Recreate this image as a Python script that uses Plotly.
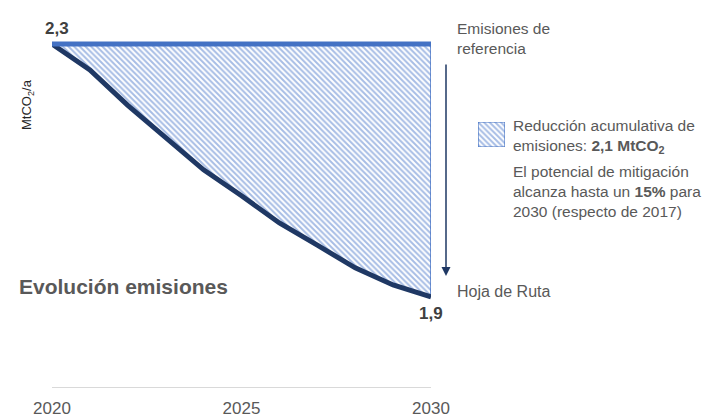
import plotly.graph_objects as go

# ---- data ----
years = [2020, 2021, 2022, 2023, 2024, 2025, 2026, 2027, 2028, 2029, 2030]
reference = [2.30, 2.30, 2.30, 2.30, 2.30, 2.30, 2.30, 2.30, 2.30, 2.30, 2.30]
roadmap = [2.30, 2.259, 2.203, 2.152, 2.101, 2.060, 2.017, 1.982, 1.946, 1.919, 1.90]
tick_years = [2020, 2025, 2030]
start_label = "2,3"
end_label = "1,9"
legend_value = [1]

W, H = 708, 418
BLUE = "#4472C4"
NAVY = "#1F3864"
GREY = "#595959"
DARK = "#404040"
FONT = "Liberation Sans, Arial, sans-serif"

pattern = dict(shape="\\", fgcolor="#4F7BCB", bgcolor="white", size=4, solidity=0.5)

def px(x):
    return x / W

def py(y):
    return 1 - y / H

fig = go.Figure()

# base for the fill
fig.add_trace(go.Scatter(x=years, y=reference, mode="lines", line=dict(width=0),
                         showlegend=False, hoverinfo="skip"))
# patterned cumulative reduction area
fig.add_trace(go.Scatter(x=years, y=roadmap, mode="lines", line=dict(width=0),
                         fill="tonexty", fillcolor="rgba(0,0,0,0)", fillpattern=pattern,
                         showlegend=False, hoverinfo="skip"))
# right edge of the area
fig.add_trace(go.Scatter(x=[years[-1], years[-1]], y=[reference[-1], roadmap[-1]],
                         mode="lines", line=dict(color=BLUE, width=1.5),
                         showlegend=False, hoverinfo="skip"))
# roadmap line
fig.add_trace(go.Scatter(x=years, y=roadmap, mode="lines",
                         line=dict(color=NAVY, width=5),
                         showlegend=False, hoverinfo="skip"))
# reference line
fig.add_trace(go.Scatter(x=years, y=reference, mode="lines",
                         line=dict(color=BLUE, width=5),
                         showlegend=False, hoverinfo="skip"))
# legend swatch
fig.add_trace(go.Bar(x=[0], y=legend_value, width=[1], xaxis="x2", yaxis="y2",
                     marker=dict(color="white", pattern=pattern,
                                 line=dict(color=BLUE, width=1.2)),
                     showlegend=False, hoverinfo="skip"))

ann = []
ann.append(dict(x=years[0], y=reference[0], xref="x", yref="y", text="<b>" + start_label + "</b>",
                showarrow=False, xshift=5, yshift=15, font=dict(size=17, color=DARK)))
ann.append(dict(x=years[-1], y=roadmap[-1], xref="x", yref="y", text="<b>" + end_label + "</b>",
                showarrow=False, xshift=0, yshift=-17, font=dict(size=17, color=DARK)))
ann.append(dict(x=px(17), y=py(77), xref="paper", yref="paper", text="MtCO<sub>2</sub>/a",
                textangle=-90, showarrow=False, font=dict(size=13, color="#262626")))
ann.append(dict(x=px(455), y=py(38.5), xref="paper", yref="paper", xanchor="left", yanchor="middle",
                align="left", text="Emisiones de<br>referencia", showarrow=False,
                font=dict(size=15.5, color=GREY)))
ann.append(dict(x=px(511), y=py(136.5), xref="paper", yref="paper", xanchor="left", yanchor="middle",
                align="left",
                text="Reducción acumulativa de<br>emisiones: <b>2,1 MtCO<sub>2</sub></b>",
                showarrow=False, font=dict(size=15.5, color=GREY)))
ann.append(dict(x=px(511), y=py(192), xref="paper", yref="paper", xanchor="left", yanchor="middle",
                align="left",
                text="El potencial de mitigación<br>alcanza hasta un <b>15%</b> para<br>2030 (respecto de 2017)",
                showarrow=False, font=dict(size=15.5, color=GREY)))
ann.append(dict(x=px(455), y=py(291), xref="paper", yref="paper", xanchor="left", yanchor="middle",
                align="left", text="Hoja de Ruta", showarrow=False,
                font=dict(size=16, color=GREY)))
ann.append(dict(x=px(17), y=py(286), xref="paper", yref="paper", xanchor="left", yanchor="middle",
                text="<b>Evolución emisiones</b>", showarrow=False,
                font=dict(size=21, color=GREY)))
# arrow
ann.append(dict(x=px(446), y=py(276), xref="paper", yref="paper", ax=0, ay=-213,
                axref="pixel", ayref="pixel", text="", showarrow=True,
                arrowhead=2, arrowsize=1.2, arrowwidth=1.5, arrowcolor=NAVY))

fig.update_layout(
    width=W, height=H,
    margin=dict(l=0, r=0, t=0, b=0),
    paper_bgcolor="white", plot_bgcolor="white",
    font=dict(family=FONT, color=GREY),
    showlegend=False,
    annotations=ann,
    xaxis=dict(domain=[px(52), px(431)], range=[2020, 2030], tickvals=tick_years,
               ticktext=[str(t) for t in tick_years], showgrid=False, zeroline=False,
               showline=True, linecolor="#D9D9D9", linewidth=1.2, ticks="",
               tickfont=dict(size=17, color=GREY), ticklabelstandoff=5, automargin=False),
    yaxis=dict(domain=[py(387), py(30)], range=[1.7577, 2.3221], visible=False,
               showgrid=False, zeroline=False, automargin=False),
    xaxis2=dict(domain=[px(478), px(505)], range=[-0.5, 0.5], visible=False,
                anchor="y2", fixedrange=True),
    yaxis2=dict(domain=[py(147), py(122)], range=[0, 1], visible=False,
                anchor="x2", fixedrange=True),
)

fig.write_html("out.html")
